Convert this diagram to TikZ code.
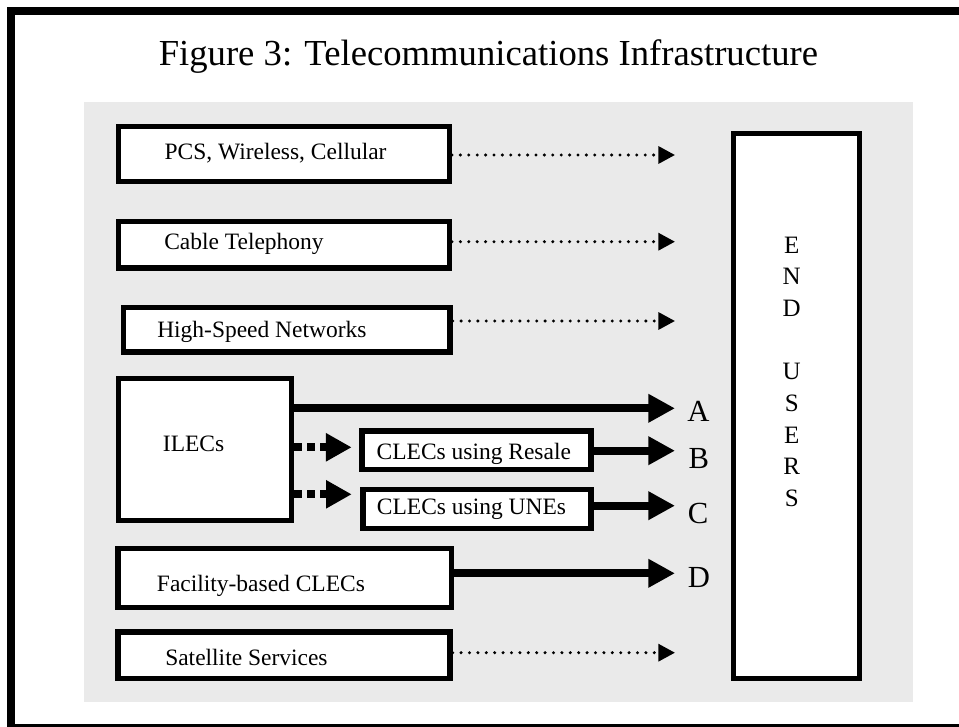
\documentclass[tikz,border=0pt]{standalone}
\usepackage{fontspec}
\setmainfont{Liberation Serif}
\usetikzlibrary{arrows.meta,calc}
\definecolor{bggray}{RGB}{234,234,234}
\tikzset{
  bx/.style 2 args={draw=black, line width=4pt, fill=white, inner sep=0pt,
    minimum width={(#1)*0.75pt-4pt}, minimum height={(#2)*0.75pt-4pt}, anchor=north west},
  lbl/.style={font=\fontsize{17.6pt}{21pt}\selectfont, inner sep=0pt, anchor=base west},
  letter/.style={font=\fontsize{23pt}{28pt}\selectfont, inner sep=0pt, anchor=base west},
  solidarrow/.style={line width=6pt, -{Triangle[length=20pt,width=20.25pt]}},
  dotarrow/.style={line width=2.5pt, line cap=round, dash pattern=on 0pt off 6.3pt,
    -{Triangle[length=12.5pt,width=12.75pt]}},
  dasharrow/.style={line width=6pt, dash pattern=on 6pt off 3.75pt,
    -{Triangle[length=19.3pt,width=20pt]}},
}
\begin{document}
\begin{tikzpicture}[x=0.75pt,y=-0.75pt]
\useasboundingbox (0,0) rectangle (959,727);
\clip (0,0) rectangle (959,727);
% outer frame
\draw[line width=6.25pt] (975,10.8) -- (10.8,10.8) -- (10.8,728.5) -- (975,728.5);
% gray panel
\fill[bggray] (84,101.7) rectangle (913,701.7);
% title
\node[font=\fontsize{27.5pt}{33pt}\selectfont, anchor=base west, inner sep=0pt] (title)
  at (158.5,65.5) {Figure 3: Telecommunications Infrastructure};
% boxes
\node[bx={336}{60.7}] (pcs) at (116,123.7) {};
\node[lbl] (pcst) at (164.3,159.3) {PCS, Wireless, Cellular};
\node[bx={336}{52}] (cab) at (116,218.7) {};
\node[lbl] (cabt) at (164,249) {Cable Telephony};
\node[bx={332}{50}] (hsn) at (120.7,304.7) {};
\node[lbl] (hsnt) at (157,337) {High-Speed Networks};
\node[bx={178.4}{147.4}] (ilec) at (116,376) {};
\node[lbl] (ilect) at (162.7,451.7) {ILECs};
\node[bx={234.3}{43.6}] (res) at (359.4,428.4) {};
\node[lbl, anchor=base] (rest) at (473.8,459) {CLECs using Resale};
\node[bx={233.3}{44}] (une) at (360.4,487) {};
\node[lbl, anchor=base] (unet) at (471.5,514.3) {CLECs using UNEs};
\node[bx={339}{64}] (fac) at (115.4,546) {};
\node[lbl] (fact) at (156.7,591) {Facility-based CLECs};
\node[bx={337.3}{51.6}] (sat) at (115.4,629.4) {};
\node[lbl] (satt) at (165,665) {Satellite Services};
\node[bx={131.2}{550}] (end) at (731,131) {};
\node[font=\fontsize{18.75pt}{23.75pt}\selectfont, align=center, inner sep=0pt] (endt)
  at (791.7,371.8) {E\\N\\D\\[23.75pt]U\\S\\E\\R\\S};
% letters
\node[letter] (la) at (687,421.7) {A};
\node[letter] (lb) at (688.3,468.3) {B};
\node[letter] (lc) at (687.7,523.3) {C};
\node[letter] (ld) at (687.7,587.3) {D};
% arrow end points
\coordinate (t1) at (675,155);
\coordinate (t2) at (675,241.7);
\coordinate (t3) at (675,321);
\coordinate (tA) at (675,408.3);
\coordinate (tB) at (675,450.7);
\coordinate (tC) at (675,505.7);
\coordinate (tD) at (675,573.3);
\coordinate (t7) at (675,652.7);
\coordinate (yR) at (0,447.3);
\coordinate (yU) at (0,494.3);
% connectors
\draw[dotarrow] (pcs.east |- t1) -- (t1);
\draw[dotarrow] (cab.east |- t2) -- (t2);
\draw[dotarrow] (hsn.east |- t3) -- (t3);
\draw[solidarrow] (ilec.east |- tA) -- (tA);
\draw[dasharrow, shorten >=5.8pt] (ilec.east |- yR) -- (res.west |- yR);
\draw[dasharrow, shorten >=6.5pt] (ilec.east |- yU) -- (une.west |- yU);
\draw[solidarrow] (res.east |- tB) -- (tB);
\draw[solidarrow] (une.east |- tC) -- (tC);
\draw[solidarrow] (fac.east |- tD) -- (tD);
\draw[dotarrow] (sat.east |- t7) -- (t7);
\end{tikzpicture}
\end{document}
